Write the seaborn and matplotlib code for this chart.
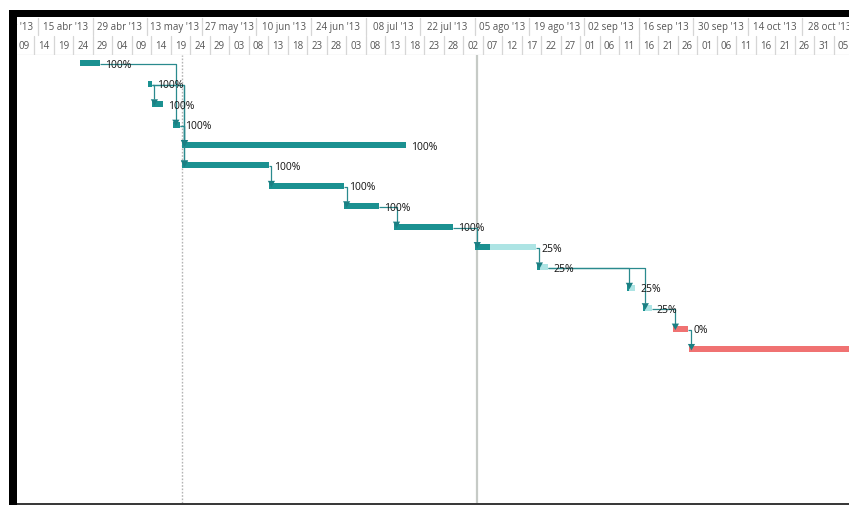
import pandas as pd
import matplotlib
matplotlib.use("Agg")
import matplotlib.pyplot as plt
import matplotlib.dates as mdates
import matplotlib.transforms as mtransforms
from matplotlib.patches import Polygon, Rectangle
import seaborn as sns

sns.set_theme(style="white")
plt.rcParams["font.family"] = ["Open Sans", "DejaVu Sans"]

# ---- schedule -------------------------------------------------------------
task_start = [
    "2013-04-25 19:00", "2013-05-13 05:00", "2013-05-14 05:00", "2013-05-19 17:00",
    "2013-05-21 22:00", "2013-05-21 22:00", "2013-06-13 05:00", "2013-07-02 12:00",
    "2013-07-15 07:00", "2013-08-05 00:00", "2013-08-20 22:00", "2013-09-13 00:00",
    "2013-09-17 02:00", "2013-09-24 19:00", "2013-09-28 22:00",
]
task_finish = [
    "2013-04-30 22:00", "2013-05-14 05:00", "2013-05-17 00:00", "2013-05-21 10:00",
    "2013-07-18 10:00", "2013-06-13 05:00", "2013-07-02 12:00", "2013-07-11 10:00",
    "2013-07-30 10:00", "2013-08-20 17:00", "2013-08-23 19:00", "2013-09-15 02:00",
    "2013-09-19 10:00", "2013-09-28 17:00", "2013-12-20 17:00",
]
percent_complete = [100, 100, 100, 100, 100, 100, 100, 100, 100, 25, 25, 25, 25, 0, 0]
late = [False] * 13 + [True, True]

# finish-to-start dependencies (predecessor row, successor row)
links = [(0, 3), (1, 2), (1, 4), (1, 5), (3, 4), (3, 5), (5, 6), (6, 7),
         (7, 8), (8, 9), (9, 10), (10, 11), (10, 12), (12, 13), (13, 14)]

current_date = "2013-05-21 21:00"
status_date = "2013-08-05 13:00"

# ---- timescale ------------------------------------------------------------
major_labels = ["01 abr '13", "15 abr '13", "29 abr '13", "13 may '13", "27 may '13",
                "10 jun '13", "24 jun '13", "08 jul '13", "22 jul '13", "05 ago '13",
                "19 ago '13", "02 sep '13", "16 sep '13", "30 sep '13", "14 oct '13",
                "28 oct '13", "11 nov '13"]
major_dates = pd.date_range("2013-04-01", periods=len(major_labels), freq="14D")
minor_dates = pd.date_range("2013-04-04", "2013-11-15", freq="5D")
minor_labels = [d.strftime("%d") for d in minor_dates]

view_start, view_end = "2013-04-09 14:45", "2013-11-08 22:50"

# ---- colours --------------------------------------------------------------
DONE = "#1b9191"
REMAIN = "#ade4e4"
LATE = "#f07272"
LINK = "#2a8a8e"
ARROW = "#1b7f83"
GRID = "#d6d6d6"

W, H = 849, 505
fig = plt.figure(figsize=(W / 100, H / 100), dpi=100, facecolor="white")


def box(x0, y0, x1, y1):
    return [x0 / W, 1 - y1 / H, (x1 - x0) / W, (y1 - y0) / H]


ax = fig.add_axes(box(17, 55, 849, 503))
hdr = fig.add_axes(box(17, 17, 849, 55))

x0, x1 = mdates.date2num(pd.Timestamp(view_start)), mdates.date2num(pd.Timestamp(view_end))
ROW_PX = 20.39
y_top, y_bot = -8.5 / ROW_PX, (503 - 63.5) / ROW_PX
ax.set_xlim(x0, x1)
ax.set_ylim(y_bot, y_top)
ax.axis("off")

px_x = (x1 - x0) / 832.0
px_y = (y_bot - y_top) / 448.0

st = mdates.date2num(pd.to_datetime(task_start))
fn = mdates.date2num(pd.to_datetime(task_finish))
n = len(st)

# reference lines
ax.axvline(mdates.date2num(pd.Timestamp(current_date)), color="#b4b4b4", lw=1.0,
           ls=(0, (1.2, 1.2)), zorder=1)
ax.axvline(mdates.date2num(pd.Timestamp(status_date)), color="#c6cac6", lw=1.6, zorder=1)

bar_h = 6 * px_y
for i in range(n):
    dur = fn[i] - st[i]
    base = LATE if late[i] else REMAIN
    ax.barh(i, dur, left=st[i], height=bar_h, color=base, lw=0, zorder=3)
    done = dur * percent_complete[i] / 100.0
    if done > 0:
        ax.barh(i, done, left=st[i], height=bar_h, color=DONE, lw=0, zorder=3)

# dependency connectors
for p, s in links:
    xa = max(fn[p], st[s]) + 2.5 * px_x
    yl = p + 1 * px_y
    top_s = s - 3 * px_y
    ax.plot([fn[p], xa, xa], [yl, yl, top_s - 2 * px_y], color=LINK, lw=0.9,
            zorder=4, solid_capstyle="butt", clip_on=True)
    tri = Polygon([[xa - 3.6 * px_x, top_s - 2 * px_y], [xa + 3.6 * px_x, top_s - 2 * px_y],
                   [xa, top_s + 4.5 * px_y]], closed=True, color=ARROW, lw=0, zorder=5)
    ax.add_patch(tri)

# percent-complete labels (only for bars that end inside the view)
lab_tr = mtransforms.offset_copy(ax.transData, fig=fig, x=5, y=-2, units="dots")
for i in range(n):
    if fn[i] < x1:
        ax.text(fn[i], i, f"{percent_complete[i]}%", transform=lab_tr, ha="left",
                va="center", fontsize=7.5, color="#141414", zorder=6, clip_on=True)

# ---- header ---------------------------------------------------------------
hdr.set_xlim(x0, x1)
hdr.set_ylim(38, 0)
hdr.axis("off")
for d, lab in zip(major_dates, major_labels):
    xd = mdates.date2num(d)
    hdr.plot([xd, xd], [1, 18], color=GRID, lw=0.9, clip_on=True)
    hdr.text(xd + 7, 10.8, lab, ha="center", va="center", fontsize=7,
             color="#555555", clip_on=True)
for d, lab in zip(minor_dates, minor_labels):
    xd = mdates.date2num(d)
    hdr.plot([xd, xd], [19, 38], color=GRID, lw=0.9, clip_on=True)
    hdr.text(xd + 2.5, 29.2, lab, ha="center", va="center", fontsize=7,
             color="#555555", clip_on=True)
hdr.axhline(37.6, color=GRID, lw=0.9)

# ---- window frame ---------------------------------------------------------
fig.add_artist(Rectangle((9 / W, 0), 8 / W, (H - 10) / H, transform=fig.transFigure,
                         color="black", lw=0))
fig.add_artist(Rectangle((9 / W, 1 - 17 / H), (W - 9) / W, 7 / H, transform=fig.transFigure,
                         color="black", lw=0))
fig.add_artist(Rectangle((17 / W, 0), (W - 17) / W, 2 / H, transform=fig.transFigure,
                         color="#3a3a3a", lw=0))

fig.savefig("out.png", dpi=100, facecolor="white")
